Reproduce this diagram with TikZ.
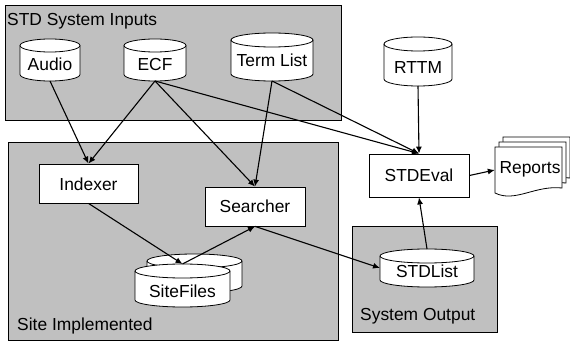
\documentclass[tikz,border=0pt]{standalone}
\usepackage{fontspec}
\setmainfont{Liberation Sans}
\usetikzlibrary{arrows.meta}
\definecolor{boxgray}{RGB}{192,192,192}
\newcommand\cyl[6]{%
  \draw[cylline] ({#2-#5},{#3-#6}) -- ({#2-#5},{#4+#6}) arc[start angle=180,end angle=360,x radius=#5,y radius=#6] -- ({#2+#5},{#3-#6}) arc[start angle=0,end angle=180,x radius=#5,y radius=#6] -- cycle;
  \draw[cylline,fill=none] ({#2-#5},{#3-#6}) arc[start angle=180,end angle=360,x radius=#5,y radius=#6];
  \node[inner sep=0pt,outer sep=0pt,minimum width={2*#5},minimum height={#3-#4}] (#1) at (#2,{(#3+#4)/2}) {};
}
\begin{document}
\begin{tikzpicture}[x=1pt,y=1pt,
  every node/.style={font=\fontsize{17.4}{20}\selectfont},
  grp/.style={draw=black,fill=boxgray,line width=0.8pt},
  cylline/.style={draw=black,fill=white,line width=0.8pt},
  procbox/.style={draw=black,fill=white,line width=0.8pt,inner sep=0pt},
  txt/.style={inner sep=0pt,anchor=base},
  lbl/.style={inner sep=0pt,anchor=base west},
  arr/.style={line width=1.1pt,-{Latex[length=7pt,width=6pt]}},
  page/.style={draw=black,fill=white,line width=0.8pt}]
\useasboundingbox (0,0) rectangle (570,343);
% group boxes
\draw[grp] (5,338) rectangle (341,223);
\draw[grp] (8,201) rectangle (338,3);
\draw[grp] (352,117) rectangle (497,11);
\node[lbl] (lblin) at (7,317) {STD System Inputs};
\node[lbl] (lblsite) at (17,13) {Site Implemented};
\node[lbl] (lblout) at (360,23) {System Output};
% inputs
\cyl{audio}{50}{304}{262}{30}{6.5}
\node[txt] (taudio) at (50,272) {Audio};
\cyl{ecf}{155}{304}{262}{31}{6.5}
\node[txt] (tecf) at (155,272) {ECF};
\cyl{term}{272}{310}{262}{41}{7}
\node[txt] (tterm) at (272,276) {Term List};
\cyl{rttm}{418}{306}{257}{34}{7}
\node[txt] (trttm) at (418,269) {RTTM};
% processes
\node[procbox,minimum width=100pt,minimum height=43pt] (stdeval) at (419,167.5) {};
\node[txt] (tstdeval) at (419,161) {STDEval};
\node[procbox,minimum width=99pt,minimum height=39pt] (indexer) at (88.5,159.5) {};
\node[txt] (tindexer) at (88.5,152) {Indexer};
\node[procbox,minimum width=100pt,minimum height=39pt] (searcher) at (255,136.5) {};
\node[txt] (tsearcher) at (255,130) {Searcher};
% site files
\cyl{siteback}{194.5}{89}{50}{47.5}{7}
\cyl{sitefiles}{182.5}{79}{36}{47.5}{7}
\node[txt] (tsitefiles) at (182.5,46) {SiteFiles};
% stdlist
\cyl{stdlist}{427}{94}{56}{47}{7}
\node[txt] (tstdlist) at (427,66) {STDList};
% reports
\foreach \s in {8,4,0}{
  \draw[page,shift={(\s,{1.25*\s})}] (495,196) -- (562,196) -- (562,155) .. controls (535,158) and (515,140) .. (495,150) -- cycle;
}
\node[inner sep=0pt,minimum width=67pt,minimum height=46pt] (reports) at (528.5,173) {};
\node[txt] (treports) at (530,169) {Reports};
% connectors
\draw[arr] (audio.south) -- (indexer.north);
\draw[arr] (ecf.south) -- (indexer.north);
\draw[arr] (ecf.south) -- (searcher.north);
\draw[arr] (ecf.south) -- (stdeval.north);
\draw[arr] (term.south) -- (searcher.north);
\draw[arr] (term.south) -- (stdeval.north);
\draw[arr] (rttm.south) -- (stdeval.north);
\draw[arr] (stdeval.east) -- (reports.west);
\draw[arr] (stdlist.north) -- (stdeval.south);
\draw[arr] (indexer.south) -- (sitefiles.north);
\draw[arr] (sitefiles.north) -- (searcher.south);
\draw[arr] (searcher.south) -- (stdlist.west);
\end{tikzpicture}
\end{document}
